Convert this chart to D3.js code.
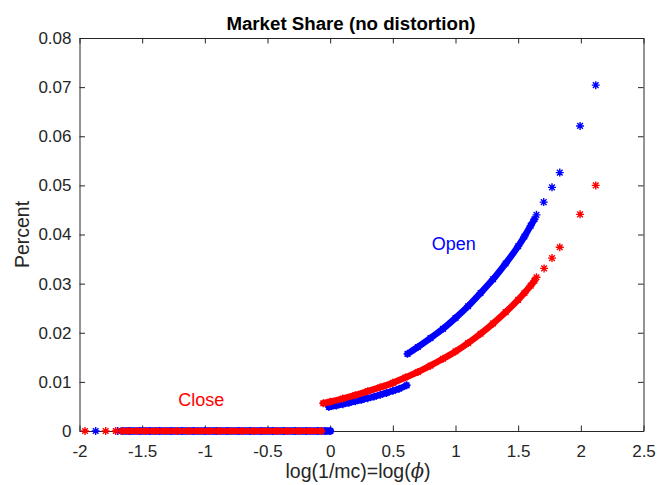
<!DOCTYPE html>
<html>
<head>
<meta charset="utf-8">
<script src="https://cdn.jsdelivr.net/npm/d3@7"></script>
<style>
  html, body { margin: 0; padding: 0; background: #fff; }
  svg { display: block; }
  text { font-family: "Liberation Sans", Arial, Helvetica, sans-serif; }
</style>
</head>
<body>
<script>
// ---------- data ----------
const xTickValues = [-2, -1.5, -1, -0.5, 0, 0.5, 1, 1.5, 2, 2.5];
const xTickLabels = ["-2", "-1.5", "-1", "-0.5", "0", "0.5", "1", "1.5", "2", "2.5"];
const yTickValues = [0, 0.01, 0.02, 0.03, 0.04, 0.05, 0.06, 0.07, 0.08];
const yTickLabels = ["0", "0.01", "0.02", "0.03", "0.04", "0.05", "0.06", "0.07", "0.08"];

// Open (blue)
const openZeroIsoX = [-1.871, -1.695];
const openZeroX = [-1.66, -1.6, -1.52, -1.44, -1.36, -1.27, -1.18, -1.09, -1.0, -0.91, -0.82, -0.73, -0.64, -0.55, -0.46, -0.37, -0.28, -0.19, -0.1, -0.04, 0.0];
const openLowX = [-0.01, 0.05, 0.1, 0.15, 0.2, 0.25, 0.3, 0.35, 0.4, 0.45, 0.5, 0.55, 0.61];
const openLowY = [0.0049, 0.0052, 0.00545, 0.00575, 0.00605, 0.00635, 0.00668, 0.007, 0.00738, 0.00776, 0.00818, 0.0086, 0.0093];
const openHighX = [0.617, 0.7, 0.8, 0.9, 1.0, 1.1, 1.2, 1.3, 1.4, 1.5, 1.55, 1.6, 1.63];
const openHighY = [0.0157, 0.0171, 0.0189, 0.0208, 0.023, 0.0254, 0.0281, 0.0309, 0.0341, 0.0376, 0.0396, 0.0418, 0.0431];
const openTailX = [1.646, 1.704, 1.77, 1.832, 1.994, 2.119];
const openTailY = [0.044, 0.0466, 0.0496, 0.0526, 0.0621, 0.0704];

// Close (red)
const closeZeroIsoX = [-1.956, -1.791, -1.711];
const closeZeroX = [-1.66, -1.61, -1.54, -1.47, -1.39, -1.31, -1.22, -1.13, -1.05, -0.97, -0.88, -0.79, -0.7, -0.61, -0.52, -0.43, -0.34, -0.25, -0.16, -0.07];
const closeCurveX = [-0.055, 0, 0.1, 0.2, 0.3, 0.4, 0.5, 0.6, 0.7, 0.8, 0.9, 1.0, 1.1, 1.2, 1.3, 1.4, 1.5, 1.55, 1.6, 1.63];
const closeCurveY = [0.00564, 0.00596, 0.0066, 0.0073, 0.0081, 0.0089, 0.0098, 0.0109, 0.012, 0.0133, 0.0147, 0.0162, 0.0179, 0.0198, 0.0219, 0.0242, 0.0267, 0.0281, 0.0296, 0.0306];
const closeTailX = [1.646, 1.707, 1.77, 1.832, 1.994, 2.119];
const closeTailY = [0.0313, 0.0331, 0.0352, 0.0374, 0.0441, 0.05];

const titleText = "Market Share (no distortion)";
const yLabelText = "Percent";
const annotations = [
  { text: "Open", x: 0.81, y: 0.0368, color: "#0000ff" },
  { text: "Close", x: -1.212, y: 0.00515, color: "#ff0000" }
];

// ---------- layout ----------
const W = 659, H = 485;
const mLeft = 79.5, mRight = 643.5, mTop = 38, mBottom = 431;
const BLUE = "#0000ff", RED = "#ff0000", AX = "#262626";

const x = d3.scaleLinear().domain([-2, 2.5]).range([mLeft, mRight]);
const y = d3.scaleLinear().domain([0, 0.08]).range([mBottom, mTop]);

const svg = d3.select("body").append("svg").attr("width", W).attr("height", H);

// axes
const tickLen = 5.5;
const fmtX = (d) => xTickLabels[xTickValues.indexOf(d)];
const fmtY = (d) => yTickLabels[yTickValues.indexOf(d)];

function styleAxis(g) {
  g.selectAll("path.domain").attr("stroke", AX).attr("stroke-width", 1);
  g.selectAll(".tick line").attr("stroke", AX).attr("stroke-width", 1);
  g.selectAll(".tick text").attr("fill", AX).style("font-size", "17px")
    .style("font-family", '"Liberation Sans", Arial, Helvetica, sans-serif');
}

svg.append("g").attr("transform", `translate(0,${mBottom})`)
  .call(d3.axisBottom(x).tickValues(xTickValues).tickFormat(fmtX)
    .tickSizeInner(-tickLen).tickSizeOuter(0).tickPadding(14))
  .call(styleAxis);
svg.append("g").attr("transform", `translate(0,${mTop})`)
  .call(d3.axisTop(x).tickValues(xTickValues).tickFormat(() => "")
    .tickSizeInner(-tickLen).tickSizeOuter(0))
  .call(styleAxis);
svg.append("g").attr("transform", `translate(${mLeft},0)`)
  .call(d3.axisLeft(y).tickValues(yTickValues).tickFormat(fmtY)
    .tickSizeInner(-tickLen).tickSizeOuter(0).tickPadding(8))
  .call(styleAxis);
svg.append("g").attr("transform", `translate(${mRight},0)`)
  .call(d3.axisRight(y).tickValues(yTickValues).tickFormat(() => "")
    .tickSizeInner(-tickLen).tickSizeOuter(0))
  .call(styleAxis);

// ---------- marks ----------
const asterisk = {
  draw(ctx, size) {
    const r = Math.sqrt(size) / 2;
    const d = r * Math.SQRT1_2;
    ctx.moveTo(-r, 0); ctx.lineTo(r, 0);
    ctx.moveTo(0, -r); ctx.lineTo(0, r);
    ctx.moveTo(-d, -d); ctx.lineTo(d, d);
    ctx.moveTo(-d, d); ctx.lineTo(d, -d);
  }
};
const sym = d3.symbol().type(asterisk).size(64);
const line = d3.line().x(d => x(d[0])).y(d => y(d[1])).curve(d3.curveMonotoneX);
const marks = svg.append("g");

function stars(xs, ys, color) {
  marks.append("g").selectAll("path").data(xs.map((v, i) => [v, ys ? ys[i] : 0]))
    .join("path")
    .attr("transform", d => `translate(${x(d[0])},${y(d[1])})`)
    .attr("d", sym).attr("fill", "none").attr("stroke", color).attr("stroke-width", 1.4);
}
function band(xs, ys, color, width) {
  const pts = xs.map((v, i) => [v, ys ? ys[i] : 0]);
  marks.append("path").datum(pts).attr("d", line)
    .attr("fill", "none").attr("stroke", color).attr("stroke-width", width)
    .attr("stroke-linecap", "round").attr("stroke-linejoin", "round");
  stars(xs, ys, color);
}

// Open (blue) first, then Close (red) on top
band(openZeroX, null, BLUE, 7.5);
stars(openZeroIsoX, null, BLUE);
band(openLowX, openLowY, BLUE, 6.5);
band(openHighX, openHighY, BLUE, 6.5);
stars(openTailX, openTailY, BLUE);

band(closeZeroX, null, RED, 6);
stars(closeZeroIsoX, null, RED);
band(closeCurveX, closeCurveY, RED, 6.5);
stars(closeTailX, closeTailY, RED);

// ---------- texts ----------
annotations.forEach(a => {
  svg.append("text").attr("x", x(a.x)).attr("y", y(a.y))
    .attr("fill", a.color).style("font-size", "18px").text(a.text);
});

svg.append("text").attr("x", 351).attr("y", 30).attr("text-anchor", "middle")
  .attr("fill", "#000").style("font-size", "18.7px").style("font-weight", "bold").text(titleText);

svg.append("text").attr("transform", `translate(29,${(mTop + mBottom) / 2}) rotate(-90)`)
  .attr("text-anchor", "middle").attr("fill", AX).style("font-size", "19.5px").text(yLabelText);

const xl = svg.append("text").attr("x", 358).attr("y", 477.5).attr("text-anchor", "middle")
  .attr("fill", AX).style("font-size", "19.5px");
xl.append("tspan").text("log(1/mc)=log(");
xl.append("tspan").style("font-family", '"DejaVu Serif", "Liberation Serif", serif')
  .style("font-style", "italic").text("\u03D5");
xl.append("tspan").text(")");
</script>
</body>
</html>
